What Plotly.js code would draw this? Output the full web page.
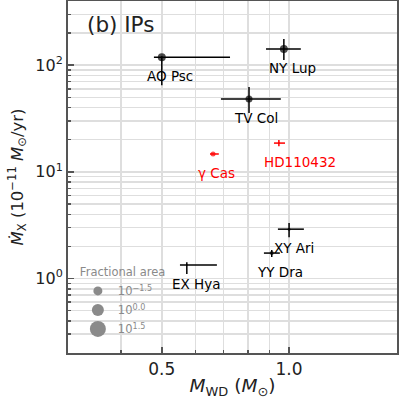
<!DOCTYPE html>
<html>
<head>
<meta charset="utf-8">
<script src="https://cdn.plot.ly/plotly-3.0.1.min.js"></script>
<style>
  html, body { margin: 0; padding: 0; background: #fff; }
  #chart { width: 399px; height: 399px; }
</style>
</head>
<body>
<div id="chart"></div>
<script>
// white dwarf mass vs X-ray mass accretion rate, intermediate polars
const names   = ["AO Psc", "NY Lup", "TV Col", "HD110432", "γ Cas", "XY Ari", "YY Dra", "EX Hya"];
const mwd     = [0.50, 0.972, 0.804, 0.946, 0.661, 1.00, 0.91, 0.573];
const mwdLo   = [0.479, 0.882, 0.690, 0.921, 0.650, 0.941, 0.872, 0.552];
const mwdHi   = [0.725, 1.066, 0.956, 0.978, 0.682, 1.084, 0.951, 0.675];
const mdot    = [119, 142, 48.2, 18.6, 14.7, 2.90, 1.73, 1.335];
const mdotLo  = [65, 112, 35.6, 17.4, 14.7, 2.44, 1.59, 1.10];
const mdotHi  = [121, 176, 62.4, 19.9, 14.7, 3.31, 1.85, 1.42];
const msize   = [8, 8, 7, 2, 5, 3, 4, 1.5];
const isRed   = [false, false, false, true, true, false, false, false];

// marker-size key
const keyLabels = ["10<sup>−1.5</sup>", "10<sup>0.0</sup>", "10<sup>1.5</sup>"];
const keySizes  = [9, 12, 16];

const xMinor = [0.3, 0.4, 0.6, 0.7, 0.8, 0.9];
const yMinor = [0.2, 0.3, 0.4, 0.5, 0.6, 0.7, 0.8, 0.9,
                2, 3, 4, 5, 6, 7, 8, 9,
                20, 30, 40, 50, 60, 70, 80, 90,
                200, 300, 400];

const FONT = "DejaVu Sans, Verdana, sans-serif";
const GRID = "#dedede";
const FRAME = "#555555";
const KEY_COLOR = "#8a8a8a";

function group(red) {
  const idx = names.map((_, i) => i).filter((i) => isRed[i] === red);
  const color = red ? "#ff0000" : "#000000";
  return {
    x: idx.map((i) => mwd[i]),
    y: idx.map((i) => mdot[i]),
    type: "scatter",
    mode: "markers",
    showlegend: false,
    hoverinfo: "skip",
    marker: { color, size: idx.map((i) => msize[i]), line: { width: 0 } },
    error_x: {
      type: "data", symmetric: false,
      array: idx.map((i) => mwdHi[i] - mwd[i]),
      arrayminus: idx.map((i) => mwd[i] - mwdLo[i]),
      color, thickness: 1.5, width: 0,
    },
    error_y: {
      type: "data", symmetric: false,
      array: idx.map((i) => mdotHi[i] - mdot[i]),
      arrayminus: idx.map((i) => mdot[i] - mdotLo[i]),
      color, thickness: 1.5, width: 0,
    },
  };
}

const keyTraces = keyLabels.map((label, k) => ({
  x: [null], y: [null],
  type: "scatter", mode: "markers",
  name: label,
  marker: { color: KEY_COLOR, size: keySizes[k] },
}));

const labels = names.map((name, i) => ({
  x: Math.log10(mwd[i]), y: Math.log10(mdot[i]),
  xref: "x", yref: "y",
  text: name,
  showarrow: false,
  xanchor: "left", yanchor: "middle",
  xshift: -17, yshift: -19,
  font: { family: FONT, size: 13.5, color: isRed[i] ? "#ff0000" : "#000000" },
}));
labels.push({
  x: 0.052, y: 0.932, xref: "paper", yref: "paper",
  text: "(b) IPs", showarrow: false,
  xanchor: "left", yanchor: "middle",
  font: { family: FONT, size: 21.5, color: "#222" },
});

const axisBase = {
  type: "log",
  showline: true, linecolor: FRAME, linewidth: 2, mirror: true,
  showgrid: true, gridcolor: GRID, gridwidth: 1.5,
  zeroline: false,
  ticks: "inside", ticklen: 6, tickwidth: 1.5, tickcolor: FRAME,
  tickfont: { family: FONT, size: 17, color: "#222" },
  tickmode: "array",
};

const layout = {
  width: 399, height: 399,
  paper_bgcolor: "#fff", plot_bgcolor: "#fff",
  font: { family: FONT, color: "#222" },
  margin: { l: 68, r: 2, t: 1, b: 46 },
  xaxis: {
    ...axisBase,
    range: [Math.log10(0.3), Math.log10(1.8)],
    tickvals: [0.5, 1.0],
    ticktext: ["0.5", "1.0"],
    minor: { tickvals: xMinor, ticks: "inside", ticklen: 3, tickcolor: FRAME, showgrid: true, gridcolor: GRID, gridwidth: 1.5 },
    title: { text: "<i>M</i><sub>WD</sub> (<i>M</i><sub>⊙</sub>)", font: { family: FONT, size: 18.5 }, standoff: 12 },
  },
  yaxis: {
    ...axisBase,
    tickfont: { family: FONT, size: 16, color: "#222" },
    range: [Math.log10(0.2), Math.log10(400)],
    tickvals: [1, 10, 100],
    ticktext: ["10<sup>0</sup>", "10<sup>1</sup>", "10<sup>2</sup>"],
    minor: { tickvals: yMinor, ticks: "inside", ticklen: 3, tickcolor: FRAME, showgrid: true, gridcolor: GRID, gridwidth: 1.5 },
    title: { text: "<i>Ṁ</i><sub>X</sub> (10<sup>−11</sup> <i>M</i><sub>⊙</sub>/yr)", font: { family: FONT, size: 16.5 }, standoff: 8 },
  },
  showlegend: true,
  legend: {
    x: 0.03, y: 0.26, xanchor: "left", yanchor: "top",
    bgcolor: "rgba(0,0,0,0)",
    title: { text: "Fractional area", font: { family: FONT, size: 11.5, color: KEY_COLOR } },
    font: { family: FONT, size: 11.5, color: KEY_COLOR },
    itemsizing: "trace",
    tracegroupgap: 0,
  },
  annotations: labels,
};

Plotly.newPlot("chart", [group(false), group(true), ...keyTraces], layout, { displayModeBar: false, staticPlot: true });
</script>
</body>
</html>
